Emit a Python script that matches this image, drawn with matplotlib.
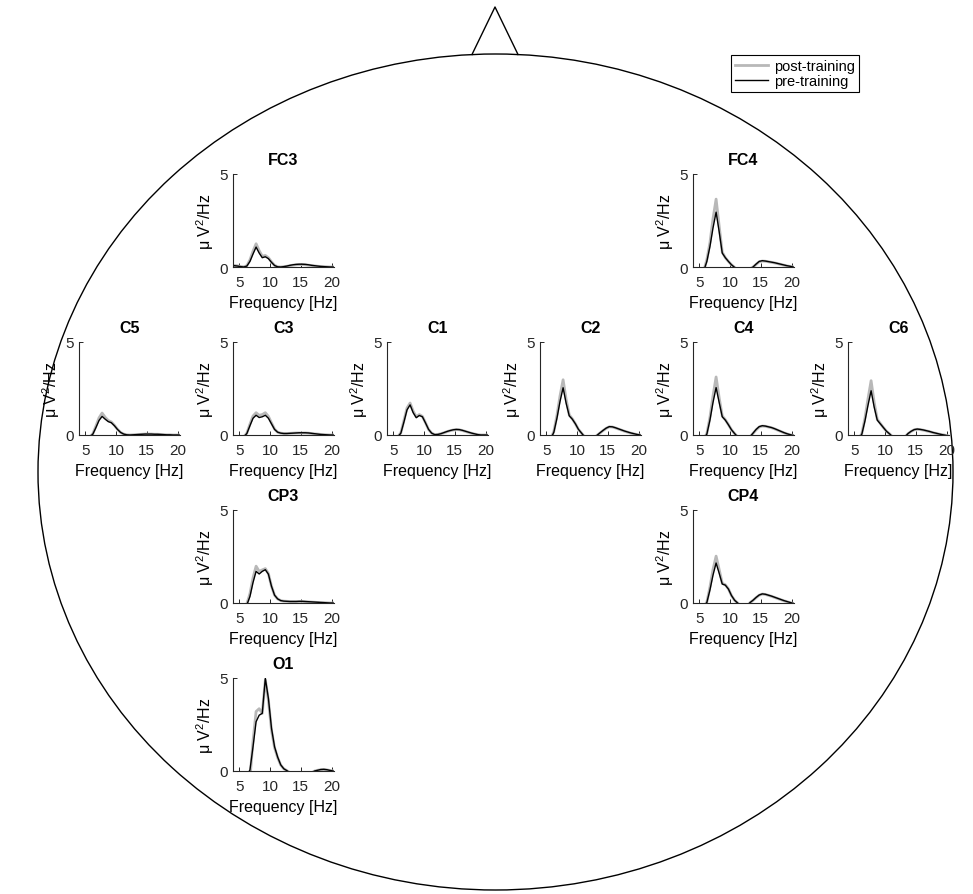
import numpy as np
import matplotlib
matplotlib.use('Agg')
import matplotlib.pyplot as plt
from matplotlib.patches import Ellipse

plt.rcParams['font.family'] = ['Liberation Sans', 'DejaVu Sans']
plt.rcParams['mathtext.fontset'] = 'custom'
plt.rcParams['mathtext.rm'] = 'Liberation Sans'
plt.rcParams['mathtext.it'] = 'Liberation Sans:italic'

# frequency grid [Hz]
freqs = np.arange(3.75, 20.5, 0.5)

# power spectra (uV^2/Hz), values below 0 are cut by the axis
FC3_pre = [0.08, 0.07, 0.05, 0.02, 0.0, 0.05, 0.3, 0.7, 1.07, 0.75, 0.5, 0.55, 0.45, 0.25, 0.08, 0.01, 0.0,
           0.02, 0.05, 0.09, 0.12, 0.14, 0.15, 0.15, 0.14, 0.12, 0.09, 0.07, 0.05, 0.03, 0.02, 0.01, 0.0, 0.0]
FC3_post = [0.1, 0.08, 0.06, 0.03, 0.01, 0.07, 0.38, 0.85, 1.25, 0.88, 0.58, 0.62, 0.5, 0.28, 0.09, 0.01, 0.0,
            0.02, 0.04, 0.07, 0.1, 0.12, 0.13, 0.13, 0.12, 0.1, 0.08, 0.06, 0.04, 0.03, 0.02, 0.01, 0.0, 0.0]
FC4_pre = [-0.3, -0.3, -0.3, -0.3, -0.2, 0.3, 1.1, 2.1, 2.95, 1.9, 0.75, 0.5, 0.3, 0.12, -0.02, -0.2, -0.2,
           -0.2, -0.2, -0.1, 0.0, 0.16, 0.3, 0.34, 0.32, 0.29, 0.26, 0.23, 0.19, 0.15, 0.11, 0.07, 0.04, 0.0]
FC4_post = [-0.3, -0.3, -0.3, -0.3, -0.2, 0.4, 1.3, 2.6, 3.65, 2.2, 0.8, 0.5, 0.3, 0.12, -0.02, -0.2, -0.2,
            -0.2, -0.2, -0.1, 0.0, 0.14, 0.28, 0.32, 0.31, 0.28, 0.25, 0.22, 0.18, 0.14, 0.1, 0.06, 0.03, 0.0]
C5_pre = [-0.1, -0.1, -0.1, -0.1, -0.1, 0.05, 0.4, 0.78, 1.0, 0.85, 0.72, 0.66, 0.5, 0.3, 0.14, 0.05, 0.01,
          0.0, 0.01, 0.02, 0.03, 0.04, 0.05, 0.05, 0.05, 0.04, 0.04, 0.03, 0.02, 0.01, 0.01, 0.0, 0.0, 0.0]
C5_post = [-0.1, -0.1, -0.1, -0.1, -0.1, 0.07, 0.48, 0.92, 1.18, 0.95, 0.78, 0.7, 0.52, 0.31, 0.14, 0.05, 0.01,
           0.0, 0.01, 0.02, 0.03, 0.04, 0.05, 0.05, 0.05, 0.04, 0.04, 0.03, 0.02, 0.01, 0.01, 0.0, 0.0, 0.0]
C3_pre = [-0.1, -0.1, -0.1, -0.1, -0.1, 0.08, 0.5, 0.9, 1.06, 0.94, 0.98, 1.06, 0.9, 0.6, 0.3, 0.15, 0.1,
          0.08, 0.08, 0.09, 0.1, 0.11, 0.12, 0.12, 0.12, 0.11, 0.09, 0.07, 0.05, 0.03, 0.02, 0.01, 0.0, 0.0]
C3_post = [-0.1, -0.1, -0.1, -0.1, -0.1, 0.1, 0.58, 1.02, 1.2, 1.06, 1.1, 1.2, 1.0, 0.65, 0.32, 0.15, 0.1,
           0.08, 0.08, 0.09, 0.1, 0.11, 0.11, 0.11, 0.11, 0.1, 0.08, 0.06, 0.05, 0.03, 0.02, 0.01, 0.0, 0.0]
C1_pre = [-0.1, -0.1, -0.1, -0.1, -0.1, 0.1, 0.7, 1.35, 1.62, 1.2, 0.93, 1.05, 0.98, 0.65, 0.3, 0.1, 0.02,
          0.03, 0.07, 0.13, 0.19, 0.24, 0.28, 0.3, 0.29, 0.25, 0.2, 0.15, 0.1, 0.06, 0.02, 0.0, 0.0, 0.0]
C1_post = [-0.1, -0.1, -0.1, -0.1, -0.1, 0.12, 0.78, 1.45, 1.72, 1.28, 0.98, 1.1, 1.0, 0.66, 0.3, 0.1, 0.02,
           0.03, 0.07, 0.12, 0.18, 0.23, 0.27, 0.29, 0.28, 0.24, 0.19, 0.14, 0.09, 0.05, 0.02, 0.0, 0.0, 0.0]
C2_pre = [-0.2, -0.2, -0.2, -0.2, -0.2, 0.15, 0.9, 1.8, 2.54, 1.7, 1.03, 0.85, 0.6, 0.3, 0.1, -0.1, -0.2,
          -0.2, -0.2, -0.02, 0.12, 0.25, 0.37, 0.45, 0.44, 0.39, 0.33, 0.27, 0.21, 0.16, 0.11, 0.07, 0.03, 0.0]
C2_post = [-0.2, -0.2, -0.2, -0.2, -0.2, 0.2, 1.05, 2.1, 2.97, 1.9, 1.08, 0.87, 0.6, 0.3, 0.1, -0.1, -0.2,
           -0.2, -0.2, -0.02, 0.11, 0.24, 0.36, 0.44, 0.43, 0.38, 0.32, 0.26, 0.2, 0.15, 0.1, 0.06, 0.02, 0.0]
C4_pre = [-0.2, -0.2, -0.2, -0.2, -0.2, 0.05, 0.8, 1.75, 2.55, 1.75, 0.98, 0.8, 0.55, 0.28, 0.08, -0.1, -0.2,
          -0.2, -0.2, -0.1, 0.1, 0.3, 0.45, 0.5, 0.48, 0.44, 0.4, 0.34, 0.27, 0.2, 0.13, 0.07, 0.02, -0.02]
C4_post = [-0.2, -0.2, -0.2, -0.2, -0.2, 0.08, 0.95, 2.1, 3.12, 2.0, 1.03, 0.82, 0.56, 0.28, 0.08, -0.1, -0.2,
           -0.2, -0.2, -0.1, 0.09, 0.28, 0.43, 0.48, 0.47, 0.43, 0.39, 0.33, 0.26, 0.19, 0.12, 0.06, 0.01, -0.02]
C6_pre = [-0.2, -0.2, -0.2, -0.2, -0.2, 0.05, 0.75, 1.6, 2.38, 1.5, 0.8, 0.6, 0.4, 0.2, 0.06, -0.1, -0.2,
          -0.2, -0.2, -0.1, 0.08, 0.2, 0.29, 0.32, 0.3, 0.27, 0.23, 0.19, 0.14, 0.1, 0.06, 0.02, -0.01, -0.05]
C6_post = [-0.2, -0.2, -0.2, -0.2, -0.2, 0.08, 0.9, 1.95, 2.92, 1.75, 0.85, 0.62, 0.4, 0.2, 0.06, -0.1, -0.2,
           -0.2, -0.2, -0.1, 0.07, 0.19, 0.28, 0.31, 0.29, 0.26, 0.22, 0.18, 0.13, 0.09, 0.05, 0.02, -0.01, -0.05]
CP3_pre = [-0.1, -0.1, -0.1, -0.1, -0.1, -0.1, 0.35, 1.1, 1.7, 1.56, 1.7, 1.79, 1.55, 0.9, 0.42, 0.22, 0.13,
           0.1, 0.09, 0.08, 0.08, 0.08, 0.09, 0.09, 0.08, 0.07, 0.06, 0.05, 0.04, 0.03, 0.02, 0.01, 0.0, 0.0]
CP3_post = [-0.1, -0.1, -0.1, -0.1, -0.1, -0.05, 0.5, 1.35, 1.98, 1.7, 1.78, 1.85, 1.58, 0.9, 0.42, 0.22, 0.13,
            0.1, 0.09, 0.08, 0.08, 0.08, 0.08, 0.08, 0.07, 0.06, 0.05, 0.04, 0.03, 0.02, 0.02, 0.01, 0.0, 0.0]
CP4_pre = [-0.2, -0.2, -0.2, -0.2, -0.2, 0.03, 0.7, 1.5, 2.15, 1.6, 1.02, 0.96, 0.75, 0.4, 0.15, 0.0, -0.2,
           -0.2, -0.2, 0.02, 0.15, 0.3, 0.43, 0.49, 0.47, 0.42, 0.37, 0.31, 0.25, 0.19, 0.13, 0.08, 0.03, -0.02]
CP4_post = [-0.2, -0.2, -0.2, -0.2, -0.2, 0.05, 0.85, 1.8, 2.52, 1.8, 1.06, 0.98, 0.76, 0.4, 0.15, 0.0, -0.2,
            -0.2, -0.2, 0.02, 0.14, 0.29, 0.42, 0.48, 0.46, 0.41, 0.36, 0.3, 0.24, 0.18, 0.12, 0.07, 0.02, -0.02]
O1_pre = [-0.2, -0.2, -0.2, -0.2, -0.2, -0.2, 0.05, 1.3, 2.65, 3.0, 3.1, 4.98, 3.9, 2.3, 1.3, 0.75, 0.33,
          0.12, 0.02, -0.1, -0.2, -0.2, -0.2, -0.2, -0.2, -0.2, -0.1, 0.0, 0.04, 0.08, 0.09, 0.07, 0.03, 0.0]
O1_post = [-0.2, -0.2, -0.2, -0.2, -0.2, -0.2, -0.4, 1.6, 3.2, 3.35, 3.1, 4.9, 3.8, 2.2, 1.25, 0.72, 0.32,
           0.12, 0.02, -0.1, -0.2, -0.2, -0.2, -0.2, -0.2, -0.2, -0.1, 0.0, 0.04, 0.07, 0.08, 0.06, 0.03, 0.0]

channels = ['FC3', 'FC4', 'C5', 'C3', 'C1', 'C2', 'C4', 'C6', 'CP3', 'CP4', 'O1']
pre = [FC3_pre, FC4_pre, C5_pre, C3_pre, C1_pre, C2_pre, C4_pre, C6_pre, CP3_pre, CP4_pre, O1_pre]
post = [FC3_post, FC4_post, C5_post, C3_post, C1_post, C2_post, C4_post, C6_post, CP3_post, CP4_post, O1_post]

# panel positions in pixels (left, top)
W, H = 973, 895
cols = [79, 233, 387, 540, 693, 848]
rows = [175, 343, 511, 679]
pos = {'FC3': (cols[1], rows[0]), 'FC4': (cols[4], rows[0]),
       'C5': (cols[0], rows[1]), 'C3': (cols[1], rows[1]), 'C1': (cols[2], rows[1]),
       'C2': (cols[3], rows[1]), 'C4': (cols[4], rows[1]), 'C6': (cols[5], rows[1]),
       'CP3': (cols[1], rows[2]), 'CP4': (cols[4], rows[2]), 'O1': (cols[1], rows[3])}
pw, ph = 101, 93

fig = plt.figure(figsize=(W / 100, H / 100), dpi=100)

# head outline + nose
bg = fig.add_axes([0, 0, 1, 1])
bg.set_xlim(0, W)
bg.set_ylim(H, 0)
bg.axis('off')
bg.add_patch(Ellipse((495.5, 473), 915, 836, fill=False, lw=1, ec='k'))
bg.plot([472, 495, 518], [55.5, 8, 55.5], color='k', lw=1)

post_col = '#b8b8b8'
for name, yp, yq in zip(channels, pre, post):
    x0, y0 = pos[name]
    ax = fig.add_axes([x0 / W, 1 - (y0 + ph) / H, pw / W, ph / H])
    ax.patch.set_alpha(0)
    lpost, = ax.plot(freqs, yq, color=post_col, lw=2.0)
    lpre, = ax.plot(freqs, yp, color='k', lw=1.0)
    ax.set_xlim(4, 20.4)
    ax.set_ylim(0, 5)
    ax.set_xticks([5, 10, 15, 20])
    ax.set_yticks([0, 5])
    for s in ['top', 'right']:
        ax.spines[s].set_visible(False)
    for s in ['left', 'bottom']:
        ax.spines[s].set_linewidth(0.8)
        ax.spines[s].set_color('#262626')
    ax.tick_params(direction='in', length=3, width=0.7, labelsize=11, colors='#262626')
    ax.tick_params(axis='x', pad=6)
    ax.tick_params(axis='y', pad=4)
    ax.set_title(name, fontsize=11.5, fontweight='bold', pad=7)
    ax.set_xlabel('Frequency [Hz]', fontsize=11.5, labelpad=4)
    ax.set_ylabel('μ V$^{2}$/Hz', fontsize=11.5, labelpad=2)

fig.legend([lpost, lpre], ['post-training', 'pre-training'], loc='upper left',
           bbox_to_anchor=(731 / W, 1 - 56 / H), fontsize=10.5, frameon=True, fancybox=False,
           edgecolor='k', framealpha=1, borderpad=0.25, labelspacing=0.1,
           handlelength=2.3, handletextpad=0.4, borderaxespad=0)
fig.legends[0].get_frame().set_linewidth(0.8)

fig.savefig('out.png', dpi=100)
